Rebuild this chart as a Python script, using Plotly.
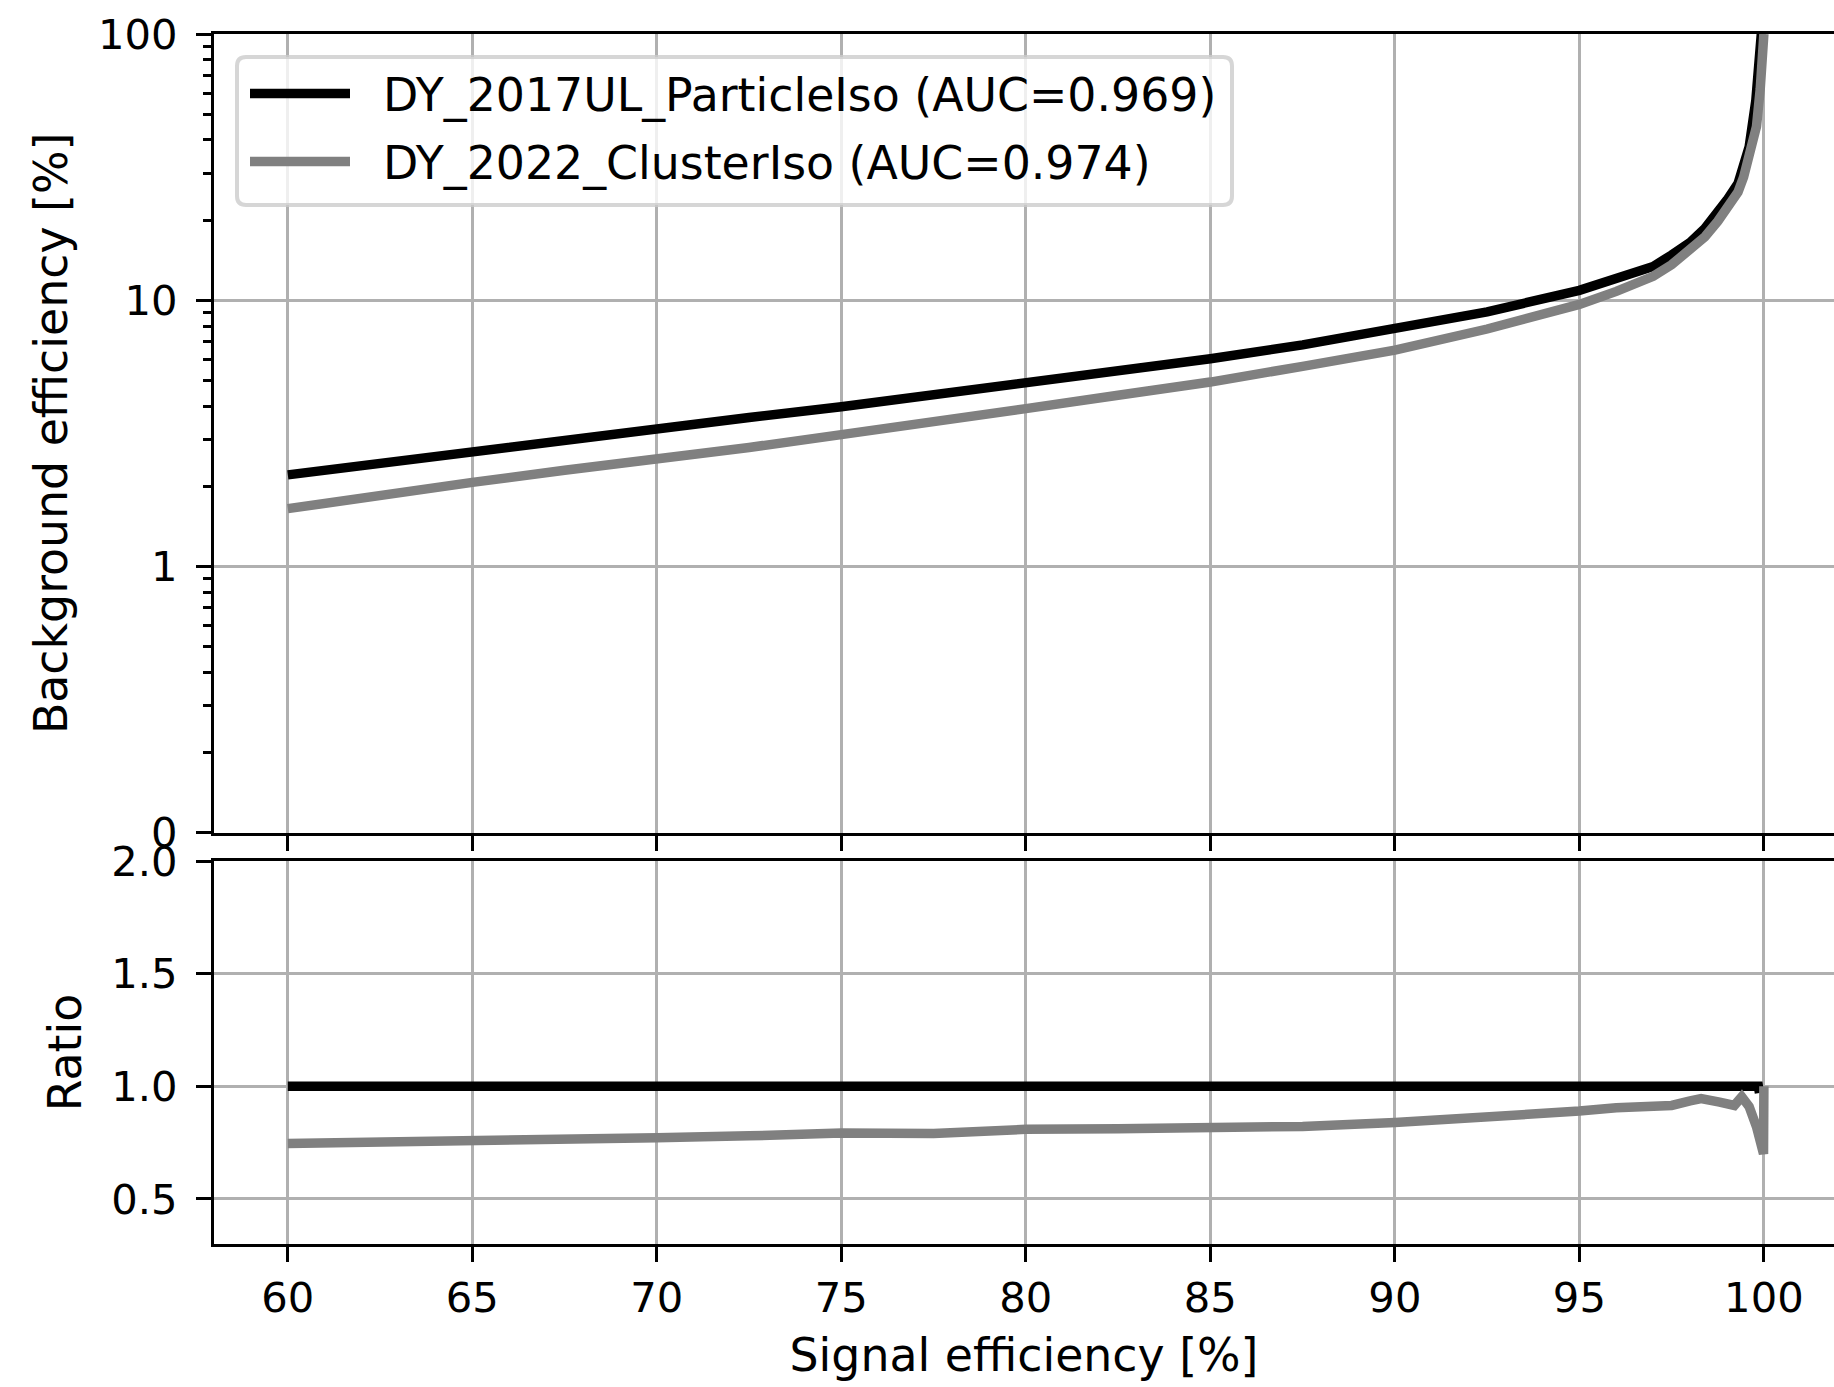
import plotly.graph_objects as go

# ROC curves: signal efficiency [%] vs background efficiency [%]
sig_eff = [60, 62.5, 65, 67.5, 70, 72.5, 75, 77.5, 80, 82.5, 85, 87.5, 90,
           92.5, 95, 96, 97, 97.5, 98, 98.4, 98.75, 99.0, 99.3, 99.45, 99.6, 99.78,
           99.87, 99.93, 100]
bkg_particle_iso = [2.21, 2.45, 2.71, 3.0, 3.32, 3.63, 3.98, 4.40, 4.90, 5.42, 6.03, 6.8, 7.77,
                    9.05, 10.9, 12.0, 13.4, 14.8, 16.5, 18.6, 21.2, 23.8, 27.5, 31.5, 37.7, 56,
                    85, 100, 100]

sig_eff_cluster = [60, 62.5, 65, 67.5, 70, 72.5, 75, 77.5, 80, 82.5, 85, 87.5, 90,
                   92.5, 95, 96, 97, 97.5, 98, 98.4, 98.75, 99.0, 99.3, 99.45, 99.6, 99.8,
                   99.9, 99.96, 100]
bkg_cluster_iso = [1.65, 1.86, 2.07, 2.30, 2.52, 2.80, 3.13, 3.48, 3.92, 4.40, 4.93, 5.65, 6.50,
                   7.80, 9.65, 10.8, 12.3, 13.6, 15.4, 17.3, 19.8, 22.2, 25.5, 29, 34, 45,
                   62, 75, 100]

# Ratio to the reference (DY_2017UL_ParticleIso)
ratio_ref_x = [60, 99.85, 99.88]
ratio_ref_y = [1.0, 1.0, 0.97]
ratio_x = [60, 62.5, 65, 67.5, 70, 72.5, 75, 77.5, 80, 82.5, 85, 87.5, 90, 92.5, 94,
           95, 96, 96.5, 97, 97.5, 98, 98.3, 98.8, 99.2, 99.4, 99.6, 99.8, 99.95, 99.99, 100]
ratio_y = [0.746, 0.755, 0.760, 0.765, 0.772, 0.780, 0.793, 0.790, 0.809, 0.812, 0.817, 0.822,
           0.839, 0.862, 0.880, 0.89, 0.905, 0.91, 0.915, 0.915, 0.935, 0.945, 0.93, 0.915,
           0.953, 0.91, 0.82, 0.715, 0.70, 1.0]

labels = ["DY_2017UL_ParticleIso (AUC=0.969)", "DY_2022_ClusterIso (AUC=0.974)"]
colors = ["#000000", "#808080"]

x_ticks = [60, 65, 70, 75, 80, 85, 90, 95, 100]
y_top_ticks = [0.1, 1, 10, 100]
y_top_ticktext = ["0", "1", "10", "100"]
y_top_minor = [0.2, 0.3, 0.4, 0.5, 0.6, 0.7, 0.8, 0.9,
               2, 3, 4, 5, 6, 7, 8, 9, 20, 30, 40, 50, 60, 70, 80, 90]
y_ratio_ticks = [0.5, 1.0, 1.5, 2.0]
y_ratio_ticktext = ["0.5", "1.0", "1.5", "2.0"]

FONT = "DejaVu Sans"
FS_TICK = 41.7
FS_LABEL = 45.8
LW = 9.5
AXW = 3.3
GRID = "#b0b0b0"

# page geometry (px)
W, H = 1834, 1387
ML, MR, MT, MB = 214, 0, 34, 143
PW, PH = W - ML - MR, H - MT - MB


def px(x):
    return (x - ML) / PW


def py(y):
    return (H - MB - y) / PH


fig = go.Figure()
fig.add_trace(go.Scatter(x=sig_eff, y=bkg_particle_iso, mode="lines", name=labels[0],
                         line=dict(color=colors[0], width=LW), xaxis="x2", yaxis="y2",
                         showlegend=False))
fig.add_trace(go.Scatter(x=sig_eff_cluster, y=bkg_cluster_iso, mode="lines", name=labels[1],
                         line=dict(color=colors[1], width=LW), xaxis="x2", yaxis="y2",
                         showlegend=False))
fig.add_trace(go.Scatter(x=ratio_ref_x, y=ratio_ref_y, mode="lines", showlegend=False,
                         line=dict(color=colors[0], width=LW), xaxis="x", yaxis="y"))
fig.add_trace(go.Scatter(x=ratio_x, y=ratio_y, mode="lines", showlegend=False,
                         line=dict(color=colors[1], width=LW), xaxis="x", yaxis="y"))

# legend box with rounded corners
bx0, bx1, by0, by1, r = 237, 1232, 57, 205, 9
rx, ry = r / PW, r / PH
x0, x1, y0, y1 = px(bx0), px(bx1), py(by1), py(by0)
box_path = (f"M{x0 + rx},{y0} L{x1 - rx},{y0} Q{x1},{y0} {x1},{y0 + ry} "
            f"L{x1},{y1 - ry} Q{x1},{y1} {x1 - rx},{y1} L{x0 + rx},{y1} "
            f"Q{x0},{y1} {x0},{y1 - ry} L{x0},{y0 + ry} Q{x0},{y0} {x0 + rx},{y0} Z")
shapes = [dict(type="path", path=box_path, xref="paper", yref="paper", layer="above",
               fillcolor="rgba(255,255,255,0.8)",
               line=dict(color="rgba(204,204,204,0.8)", width=4))]
annotations = []
row_y = [93.5, 161.5]
for lbl, col, yy in zip(labels, colors, row_y):
    shapes.append(dict(type="line", xref="paper", yref="paper", layer="above",
                       x0=px(250), x1=px(350), y0=py(yy), y1=py(yy),
                       line=dict(color=col, width=LW)))
    annotations.append(dict(text=lbl, xref="paper", yref="paper", x=px(380.5), y=py(yy + 1),
                            xanchor="left", yanchor="middle", showarrow=False,
                            font=dict(family=FONT, size=FS_LABEL, color="black")))

x_range = [58, 101.9]
common_x = dict(range=x_range, tickmode="array", tickvals=x_ticks,
                ticks="outside", ticklen=15, tickwidth=AXW, tickcolor="black",
                showline=True, linewidth=AXW, linecolor="black", mirror=True,
                showgrid=True, gridcolor=GRID, gridwidth=AXW, zeroline=False,
                tickfont=dict(family=FONT, size=FS_TICK))
common_y = dict(ticks="outside", ticklen=15, tickwidth=AXW, tickcolor="black",
                showline=True, linewidth=AXW, linecolor="black", mirror=False,
                showgrid=True, gridcolor=GRID, gridwidth=AXW, zeroline=False,
                ticklabelstandoff=10, tickfont=dict(family=FONT, size=FS_TICK))

fig.update_layout(
    width=W, height=H,
    margin=dict(l=ML, r=MR, t=MT, b=MB),
    plot_bgcolor="white", paper_bgcolor="white",
    font=dict(family=FONT, size=FS_TICK, color="black"),
    showlegend=False,
    shapes=shapes,
    annotations=annotations,
    # lower panel (ratio)
    xaxis=dict(**common_x, anchor="y", domain=[0, 1], ticklabelstandoff=0,
               title=dict(text="Signal efficiency [%]", standoff=18,
                          font=dict(family=FONT, size=FS_LABEL))),
    yaxis=dict(**common_y, anchor="x", domain=[0, 0.3165], range=[0.3, 2.0],
               tickmode="array", tickvals=y_ratio_ticks, ticktext=y_ratio_ticktext,
               title=dict(text="Ratio", standoff=16, font=dict(family=FONT, size=FS_LABEL))),
    # upper panel (ROC)
    xaxis2=dict(**common_x, anchor="y2", domain=[0, 1], matches="x",
                showticklabels=False),
    yaxis2=dict(**common_y, anchor="x2", domain=[0.3398, 1], type="log", range=[-1, 2],
                tickmode="array", tickvals=y_top_ticks, ticktext=y_top_ticktext,
                minor=dict(tickmode="array", tickvals=y_top_minor, ticks="outside",
                           ticklen=8.3, tickwidth=2.5, tickcolor="black", showgrid=False),
                title=dict(text="Background efficiency [%]", standoff=16,
                           font=dict(family=FONT, size=FS_LABEL))),
)

fig.write_html("out.html")
